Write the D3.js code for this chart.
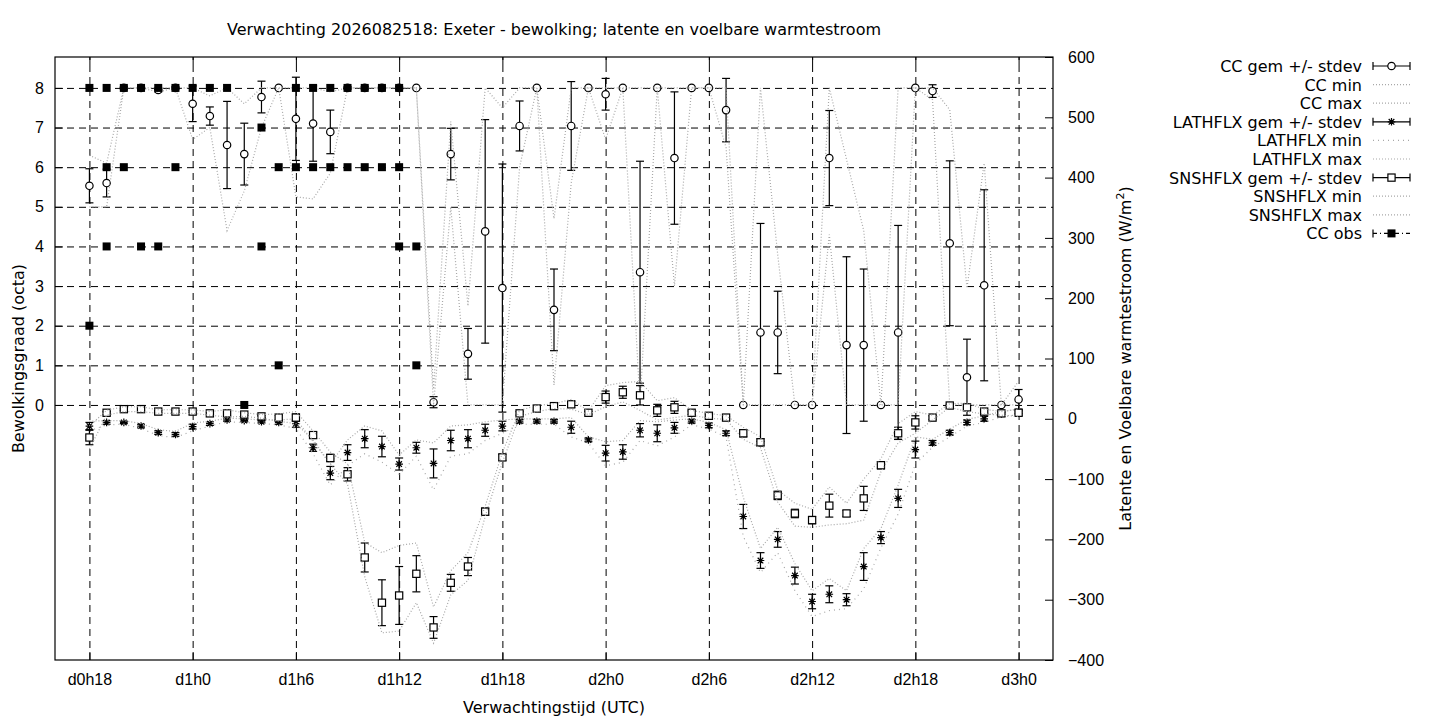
<!DOCTYPE html>
<html>
<head>
<meta charset="utf-8">
<script src="https://cdn.jsdelivr.net/npm/d3@7"></script>
<style>
  body { margin: 0; background: #fff; }
  svg { display: block; font-family: "DejaVu Sans", sans-serif; }
  .axis text { font-size: 16px; fill: #000; }
  .axis .domain { display: none; }
  .grid line { stroke: #000; stroke-dasharray: 7,5; stroke-width: 1; }
  .grid .domain, .grid text { display: none; }
</style>
</head>
<body>
<div id="chart"></div>
<script>
// forecast hours (x), d0h18 .. d3h0
const hours = [18, 19, 20, 21, 22, 23, 24, 25, 26, 27, 28, 29,
               30, 31, 32, 33, 34, 35, 36, 37, 38, 39, 40, 41,
               42, 43, 44, 45, 46, 47, 48, 49, 50, 51, 52, 53,
               54, 55, 56, 57, 58, 59, 60, 61, 62, 63, 64, 65,
               66, 67, 68, 69, 70, 71, 72];

// bewolking (octa)
const ccMean = [5.53, 5.6, 8, 8, 7.95, 8,
                7.6, 7.29, 6.56, 6.33, 7.77, 8,
                7.22, 7.1, 6.89, 8, 8, 8,
                8, 8, 0.07, 6.33, 1.29, 4.38,
                2.95, 7.04, 8, 2.4, 7.04, 8,
                7.84, 8, 3.35, 8, 6.23, 8,
                8, 7.44, 0, 1.83, 1.83, 0,
                0, 6.23, 1.51, 1.51, 0, 1.83,
                8, 7.92, 4.08, 0.7, 3.02, 0,
                0.14];
const ccSd = [0.43, 0.35, 0, 0, 0.05, 0,
              0.45, 0.23, 1.1, 0.78, 0.4, 0,
              1.05, 0.95, 0.55, 0, 0, 0,
              0, 0, 0.14, 0.65, 0.64, 2.82,
              3.13, 0.63, 0, 1.03, 1.12, 0,
              0.4, 0, 2.8, 0, 1.67, 0,
              0, 0.8, 0, 2.75, 1.04, 0,
              0, 1.2, 2.23, 1.92, 0, 2.7,
              0, 0.16, 2.08, 0.96, 2.41, 0,
              0.25];
const ccMin = [5.0, 5.0, 8, 8, 7.9, 8,
               6.7, 7.0, 4.4, 5.4, 7.0, 8,
               5.25, 5.2, 5.85, 8, 8, 8,
               8, 8, 0, 5.0, 0, 0,
               0, 6.0, 8, 0.5, 5.6, 8,
               6.7, 8, 0, 8, 3.0, 8,
               8, 6.5, 0, 0, 0, 0,
               0, 4.3, 0, 0, 0, 0,
               8, 7.7, 0, 0, 0, 0,
               0];
const ccMax = [6.3, 6.1, 8, 8, 8, 8,
               8, 7.8, 8, 7.6, 8, 8,
               8, 8, 7.9, 8, 8, 8,
               8, 8, 0.4, 7.15, 2.5, 8,
               7.5, 8, 8, 4.7, 8, 8,
               8, 8, 8, 8, 8, 8,
               8, 8, 0, 8, 3.8, 0,
               0, 8, 6.2, 4.4, 0, 8,
               8, 8, 7.45, 2.95, 6.1, 0,
               0.6];

// latente warmtestroom (W/m2)
const latMean = [-12, -6, -6, -12, -23, -26,
                 -13, -8, -2, -3, -5, -6,
                 -8, -48, -90, -56, -33, -46,
                 -75, -48, -74, -36, -33, -19,
                 -12, -4, -4, -4, -14, -35,
                 -57, -55, -19, -24, -15, -4,
                 -11, -24, -162, -235, -200, -260,
                 -303, -291, -300, -245, -197, -132,
                 -51, -40, -23, -6, 0, 8,
                 12];
const latSd = [6, 3, 2, 3, 3, 3,
               4, 3, 2, 2, 2, 3,
               6, 6, 11, 13, 15, 17,
               10, 9, 24, 17, 15, 10,
               8, 3, 3, 3, 10, 3,
               13, 12, 11, 14, 9, 3,
               4, 4, 20, 13, 13, 14,
               12, 14, 10, 23, 10, 15,
               14, 4, 4, 4, 4, 3,
               3];
const latMin = [-20, -10, -9, -16, -28, -31,
                -20, -12, -5, -6, -8, -10,
                -16, -58, -110, -78, -58, -72,
                -92, -62, -118, -62, -58, -36,
                -24, -9, -9, -9, -30, -40,
                -78, -72, -36, -45, -30, -10,
                -17, -30, -195, -255, -222, -285,
                -328, -318, -315, -282, -214, -158,
                -75, -47, -30, -12, -6, 3,
                7];
const latMax = [-4, -3, -3, -8, -18, -21,
                -7, -4, 1, 0, -2, -2,
                0, -38, -75, -35, -12, -20,
                -60, -35, -40, -12, -10, -5,
                -2, 0, 0, 0, 2, -30,
                -38, -36, -3, -5, -2, 0,
                -6, -18, -130, -215, -180, -240,
                -285, -265, -285, -215, -182, -110,
                -30, -34, -17, -1, 5, 12,
                16];

// voelbare warmtestroom (W/m2)
const snsMean = [-31, 10, 16, 16, 12, 12,
                 12, 9, 9, 7, 4, 2,
                 2, -27, -65, -92, -230, -305,
                 -293, -257, -346, -272, -245, -154,
                 -64, 9, 17, 21, 24, 10,
                 36, 44, 39, 14, 19, 10,
                 5, 2, -24, -39, -127, -157,
                 -168, -144, -157, -132, -77, -24,
                 -6, 2, 22, 19, 12, 9,
                 10];
const snsSd = [12, 2, 2, 2, 2, 2,
               2, 2, 4, 2, 2, 4,
               6, 5, 6, 11, 24, 38,
               48, 30, 18, 14, 15, 6,
               5, 3, 3, 3, 5, 2,
               10, 10, 16, 10, 10, 3,
               3, 2, 6, 6, 7, 7,
               6, 19, 5, 20, 6, 10,
               11, 3, 2, 5, 3, 3,
               4];
const snsMin = [-50, 6, 12, 12, 9, 9,
                9, 6, 3, 4, 1, -4,
                -8, -35, -75, -108, -262, -355,
                -352, -305, -372, -292, -268, -162,
                -72, 4, 12, 17, 16, 7,
                20, 28, 14, -2, 2, 6,
                1, -1, -34, -48, -138, -178,
                -180, -176, -174, -168, -88, -40,
                -24, -2, 19, 12, 8, 6,
                4];
const snsMax = [-12, 14, 20, 20, 15, 15,
                15, 12, 15, 10, 7, 8,
                12, -20, -55, -75, -205, -222,
                -210, -206, -312, -252, -222, -145,
                -56, 14, 22, 25, 32, 13,
                55, 60, 62, 30, 35, 14,
                9, 5, -14, -30, -118, -140,
                -150, -113, -140, -100, -66, -8,
                12, 6, 25, 26, 16, 12,
                16];

// waarnemingen bewolking
const obsHour = [18, 18, 19, 19, 19, 20, 20, 21, 21, 22, 22, 23, 23, 24, 25, 26, 27,
                 28, 28, 29, 29, 30, 30, 31, 31, 32, 32, 33, 33, 34, 34, 35, 35,
                 36, 36, 36, 37, 37];
const obsCC = [8, 2, 8, 6, 4, 8, 6, 8, 4, 8, 4, 8, 6, 8, 8, 8, 0,
               7, 4, 6, 1, 8, 6, 8, 6, 8, 6, 8, 6, 8, 6, 8, 6,
               8, 6, 4, 4, 1];

const xTicks = [18, 24, 30, 36, 42, 48, 54, 60, 66, 72];
const xTickLabels = ['d0h18', 'd1h0', 'd1h6', 'd1h12', 'd1h18', 'd2h0', 'd2h6', 'd2h12', 'd2h18', 'd3h0'];
const yTicks = [0, 1, 2, 3, 4, 5, 6, 7, 8];
const y2Ticks = [-400, -300, -200, -100, 0, 100, 200, 300, 400, 500, 600];

const W = 1440, H = 720,
      pL = 55, pR = 1053, pT = 57, pB = 660;

const svg = d3.select('#chart').append('svg')
              .attr('width', W)
              .attr('height', H);

const x = d3.scaleLinear().domain([16, 74]).range([pL, pR]);
const y = d3.scaleLinear().domain([-6.435, 8.78]).range([pB, pT]);
const y2 = d3.scaleLinear().domain([-400, 600]).range([pB, pT]);

// grid
svg.append('g')
   .attr('class', 'grid')
   .attr('transform', `translate(0, ${pB})`)
   .call(d3.axisBottom(x).tickValues(xTicks).tickSize(-(pB - pT)).tickFormat(''));
svg.append('g')
   .attr('class', 'grid')
   .attr('transform', `translate(${pL}, 0)`)
   .call(d3.axisLeft(y).tickValues(yTicks).tickSize(-(pR - pL)).tickFormat(''));

// axes
svg.append('g')
   .attr('class', 'axis')
   .attr('transform', `translate(0, ${pB})`)
   .call(d3.axisBottom(x).tickValues(xTicks).tickSize(-8).tickPadding(14)
           .tickFormat((d, i) => xTickLabels[i]));
svg.append('g')
   .attr('class', 'axis')
   .attr('transform', `translate(0, ${pT})`)
   .call(d3.axisTop(x).tickValues(xTicks).tickSize(-8).tickFormat(''));
svg.append('g')
   .attr('class', 'axis')
   .attr('transform', `translate(${pL}, 0)`)
   .call(d3.axisLeft(y).tickValues(yTicks).tickSize(-8).tickPadding(11));
svg.append('g')
   .attr('class', 'axis')
   .attr('transform', `translate(${pR}, 0)`)
   .call(d3.axisRight(y2).tickValues(y2Ticks).tickSize(-8).tickPadding(15));

svg.selectAll('.axis .tick line').attr('stroke', '#000');

const plot = svg.append('g');

function dotted(vals, yy, dash) {
  const line = d3.line()
                 .x((d, i) => x(hours[i]))
                 .y(d => yy(d));
  plot.append('path')
      .attr('d', line(vals))
      .attr('fill', 'none')
      .attr('stroke', '#a8a8a8')
      .attr('stroke-width', 1.2)
      .attr('stroke-dasharray', dash);
}

function errorBars(mean, sd, yy) {
  const g = plot.append('g').attr('stroke', '#000').attr('stroke-width', 1.2);
  mean.forEach((m, i) => {
    if (sd[i] <= 0) return;
    const cx = x(hours[i]), y0 = yy(m - sd[i]), y1 = yy(m + sd[i]);
    g.append('line').attr('x1', cx).attr('x2', cx).attr('y1', y0).attr('y2', y1);
    g.append('line').attr('x1', cx - 4).attr('x2', cx + 4).attr('y1', y0).attr('y2', y0);
    g.append('line').attr('x1', cx - 4).attr('x2', cx + 4).attr('y1', y1).attr('y2', y1);
  });
}

function marker(g, type, cx, cy) {
  if (type === 'circle') {
    g.append('circle').attr('cx', cx).attr('cy', cy).attr('r', 3.7)
     .attr('fill', '#fff').attr('stroke', '#000').attr('stroke-width', 1.2);
  } else if (type === 'square') {
    g.append('rect').attr('x', cx - 3.6).attr('y', cy - 3.6).attr('width', 7.2).attr('height', 7.2)
     .attr('fill', '#fff').attr('stroke', '#000').attr('stroke-width', 1.2);
  } else if (type === 'filled') {
    g.append('rect').attr('x', cx - 4).attr('y', cy - 4).attr('width', 8).attr('height', 8)
     .attr('fill', '#000');
  } else {
    const s = 3.8, d = 2.8;
    g.append('path')
     .attr('d', `M${cx - s},${cy}H${cx + s}M${cx},${cy - s}V${cy + s}` +
                `M${cx - d},${cy - d}L${cx + d},${cy + d}M${cx - d},${cy + d}L${cx + d},${cy - d}`)
     .attr('stroke', '#000').attr('stroke-width', 1.2);
  }
}

function points(mean, yy, type) {
  const g = plot.append('g');
  mean.forEach((m, i) => marker(g, type, x(hours[i]), yy(m)));
}

// CC
errorBars(ccMean, ccSd, y);
points(ccMean, y, 'circle');
dotted(ccMin, y, '1,2');
dotted(ccMax, y, '1,2');

// LATHFLX
errorBars(latMean, latSd, y2);
points(latMean, y2, 'star');
dotted(latMin, y2, '1,4');
dotted(latMax, y2, '1,2');

// SNSHFLX
errorBars(snsMean, snsSd, y2);
points(snsMean, y2, 'square');
dotted(snsMin, y2, '1,2');
dotted(snsMax, y2, '1,2');

// obs
const gObs = plot.append('g');
obsCC.forEach((v, i) => marker(gObs, 'filled', x(obsHour[i]), y(v)));

// frame
svg.append('rect')
   .attr('x', pL).attr('y', pT)
   .attr('width', pR - pL).attr('height', pB - pT)
   .attr('fill', 'none').attr('stroke', '#000').attr('stroke-width', 1.2);

// titles
svg.append('text')
   .attr('x', (pL + pR) / 2).attr('y', 35)
   .attr('text-anchor', 'middle')
   .style('font-size', '16px')
   .text('Verwachting 2026082518: Exeter - bewolking; latente en voelbare warmtestroom');

svg.append('text')
   .attr('x', (pL + pR) / 2).attr('y', 713)
   .attr('text-anchor', 'middle')
   .style('font-size', '16px')
   .text('Verwachtingstijd (UTC)');

svg.append('text')
   .attr('transform', `translate(24, ${(pT + pB) / 2}) rotate(-90)`)
   .attr('text-anchor', 'middle')
   .style('font-size', '16px')
   .text('Bewolkingsgraad (octa)');

const r = svg.append('text')
   .attr('transform', `translate(1131, ${(pT + pB) / 2}) rotate(-90)`)
   .attr('text-anchor', 'middle')
   .style('font-size', '16px');
r.append('tspan').text('Latente en Voelbare warmtestroom (W/m');
r.append('tspan').attr('dy', -7).style('font-size', '11px').text('2');
r.append('tspan').attr('dy', 7).text(')');

// legend
const legendItems = [
  { label: 'CC gem +/- stdev', kind: 'err', mark: 'circle' },
  { label: 'CC min', kind: 'dot', dash: '1,2' },
  { label: 'CC max', kind: 'dot', dash: '1,2' },
  { label: 'LATHFLX gem +/- stdev', kind: 'err', mark: 'star' },
  { label: 'LATHFLX min', kind: 'dot', dash: '1,4' },
  { label: 'LATHFLX max', kind: 'dot', dash: '1,2' },
  { label: 'SNSHFLX gem +/- stdev', kind: 'err', mark: 'square' },
  { label: 'SNSHFLX min', kind: 'dot', dash: '1,2' },
  { label: 'SNSHFLX max', kind: 'dot', dash: '1,2' },
  { label: 'CC obs', kind: 'obs', mark: 'filled' }
];

const lg = svg.append('g');
legendItems.forEach((d, i) => {
  const ly = 66 + i * 18.6, x0 = 1373, x1 = 1410;
  lg.append('text')
    .attr('x', 1362).attr('y', ly + 6)
    .attr('text-anchor', 'end')
    .style('font-size', '16px')
    .text(d.label);
  if (d.kind === 'dot') {
    lg.append('line').attr('x1', x0).attr('x2', x1).attr('y1', ly).attr('y2', ly)
      .attr('stroke', '#a8a8a8').attr('stroke-width', 1.2).attr('stroke-dasharray', d.dash);
  } else {
    lg.append('line').attr('x1', x0).attr('x2', x1).attr('y1', ly).attr('y2', ly)
      .attr('stroke', '#000').attr('stroke-width', 1.2)
      .attr('stroke-dasharray', d.kind === 'obs' ? '4,3,1,3' : null);
    lg.append('line').attr('x1', x0).attr('x2', x0).attr('y1', ly - 4).attr('y2', ly + 4)
      .attr('stroke', '#000').attr('stroke-width', 1.2);
    if (d.kind === 'err') {
      lg.append('line').attr('x1', x1).attr('x2', x1).attr('y1', ly - 4).attr('y2', ly + 4)
        .attr('stroke', '#000').attr('stroke-width', 1.2);
    }
    marker(lg, d.mark, (x0 + x1) / 2, ly);
  }
});
</script>
</body>
</html>
